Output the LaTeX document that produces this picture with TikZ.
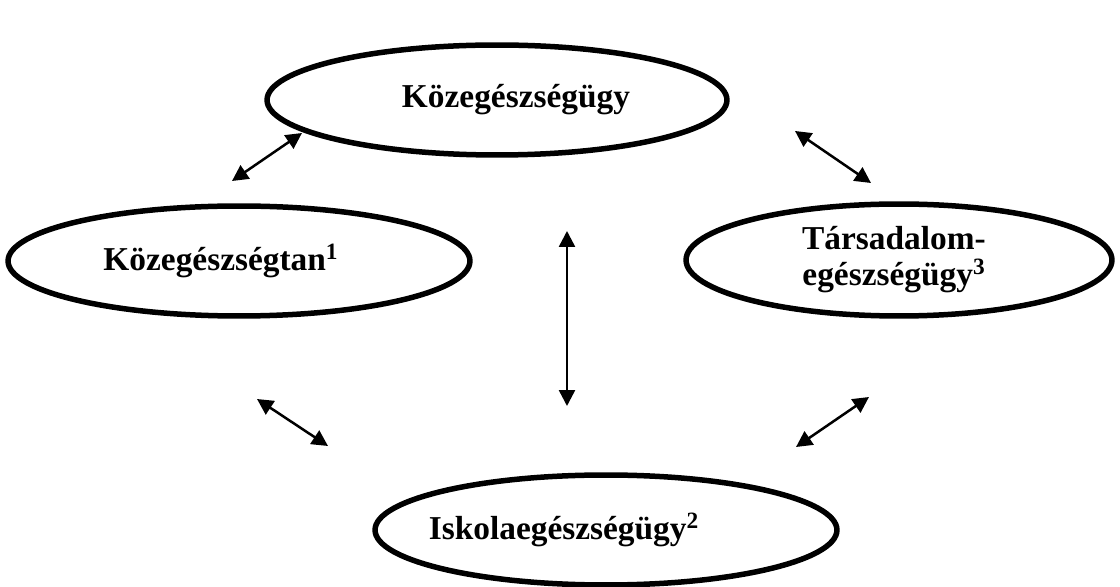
\documentclass[tikz,border=0pt]{standalone}
\usepackage{fontspec}
\setmainfont{Liberation Serif}
\usetikzlibrary{shapes.geometric,arrows.meta}

\tikzset{
    field/.style={ellipse, draw, line width=0.11cm, inner sep=0pt},
    fieldtext/.style={align=center, inner sep=0pt, font=\fontsize{19}{20.5}\selectfont\bfseries},
    link/.style={{Triangle[length=0.32cm,width=0.32cm]}-{Triangle[length=0.32cm,width=0.32cm]}, line width=0.05cm}
}

\begin{document}
\begin{tikzpicture}[x=0.02cm, y=-0.02cm]
    \useasboundingbox (0,0) rectangle (1120,587);
    % the four fields
    \node [field, minimum width=9.2cm, minimum height=2.2cm] (kozeg)  at (497,100) {};
    \node [field, minimum width=9.24cm, minimum height=2.2cm] (tan)   at (239,261) {};
    \node [field, minimum width=8.52cm, minimum height=2.24cm] (tars)  at (899,260) {};
    \node [field, minimum width=9.24cm, minimum height=2.2cm] (iskola) at (606,530) {};
    % their texts
    \node [fieldtext, xshift=0.38cm]  (kozeg-t)  at (kozeg)  {Közegészségügy};
    \node [fieldtext, xshift=-0.36cm] (tan-t)    at (tan)    {Közegészségtan\textsuperscript{1}};
    \node [fieldtext, xshift=-0.1cm]  (tars-t)   at (tars)   {Társadalom-\\egészségügy\textsuperscript{3}};
    \node [fieldtext, xshift=-0.84cm] (iskola-t) at (iskola) {Iskolaegészségügy\textsuperscript{2}};
    % arrow ends
    \coordinate (tanA)    at (232,181);
    \coordinate (kozegA)  at (302,133);
    \coordinate (kozegB)  at (795,131);
    \coordinate (tarsA)   at (871,183);
    \coordinate (kozegC)  at (567,231);
    \coordinate (iskolaC) at (567,406);
    \coordinate (tanB)    at (257,399);
    \coordinate (iskolaA) at (328,446);
    \coordinate (iskolaB) at (796,447);
    \coordinate (tarsB)   at (869,397);
    \draw [link] (tanA) -- (kozegA);
    \draw [link] (kozegB) -- (tarsA);
    \draw [link] (kozegC) -- (iskolaC);
    \draw [link] (tanB) -- (iskolaA);
    \draw [link] (iskolaB) -- (tarsB);
\end{tikzpicture}
\end{document}
